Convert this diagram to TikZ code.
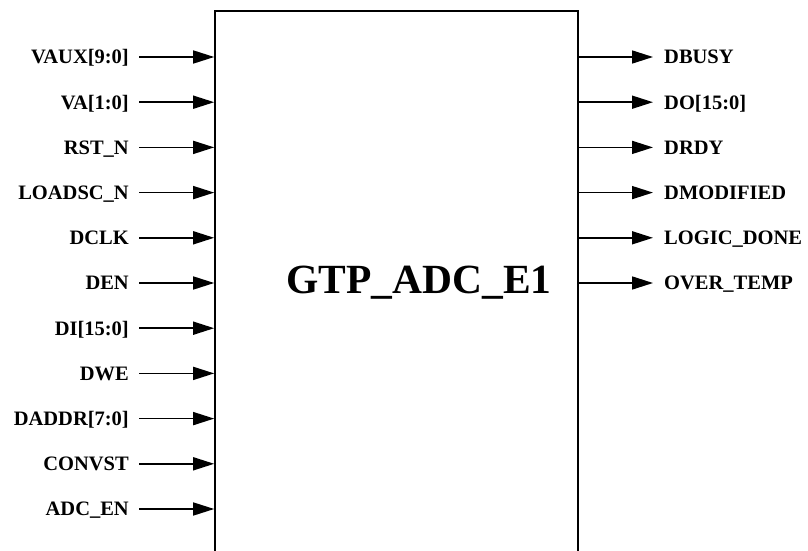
\documentclass[tikz,border=0pt]{standalone}
\usepackage{fontspec}
\setmainfont{Liberation Serif}
\usetikzlibrary{arrows.meta}

\begin{document}
\begin{tikzpicture}[x=1pt,y=1pt,
  every node/.style={font=\bfseries\fontsize{20.5}{20.5}\selectfont},
  chip/.style={draw,line width=1.6pt,minimum width=363pt,minimum height=560pt,inner sep=0pt},
  pinin/.style={anchor=east,inner xsep=10pt,inner ysep=0pt,text height=13.8pt,text depth=0pt},
  pinout/.style={anchor=west,inner xsep=11pt,inner ysep=0pt,text height=13.8pt,text depth=0pt},
  arr/.style={line width=1.6pt,-{Triangle[length=21pt,width=13pt]}}
]
\path[clip] (0,0) rectangle (808,550);
\node[chip] (adc) at (396.5,259) {};
\node[font=\bfseries\fontsize{41.5}{41.5}\selectfont] (title) at (419,267) {GTP\_ADC\_E1};

% inputs
\foreach \name [count=\i from 0] in {{VAUX[9:0]},{VA[1:0]},{RST\_N},{LOADSC\_N},{DCLK},{DEN},
    {DI[15:0]},{DWE},{DADDR[7:0]},{CONVST},{ADC\_EN}} {
  \node[pinin] (in\i) at (139,493-45.2*\i) {\name};
  \draw[arr] (in\i.east) -- (adc.west |- in\i.east);
}

% outputs
\foreach \name [count=\i from 0] in {{DBUSY},{DO[15:0]},{DRDY},{DMODIFIED},{LOGIC\_DONE},{OVER\_TEMP}} {
  \node[pinout] (out\i) at (653,493-45.2*\i) {\name};
  \draw[arr] (adc.east |- out\i.west) -- (out\i.west);
}
\end{tikzpicture}
\end{document}
